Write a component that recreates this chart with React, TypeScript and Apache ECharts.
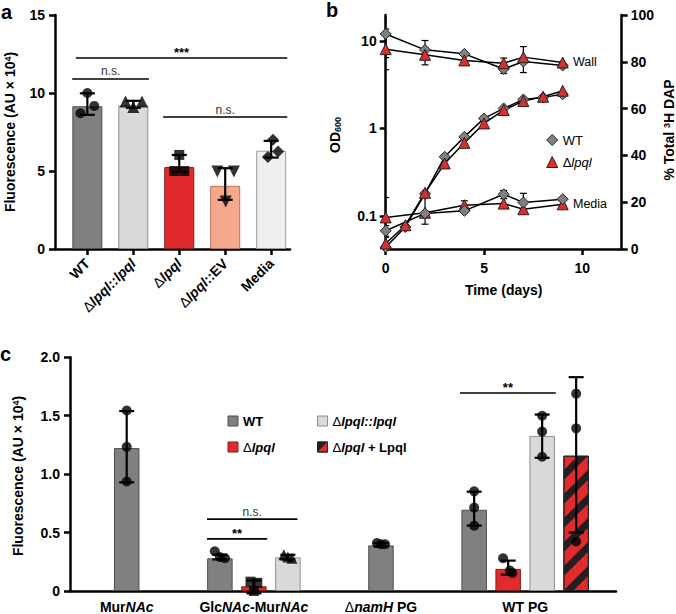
import React, { useEffect, useRef } from 'react';
import * as echarts from 'echarts';

// ---------------- Panel a data ----------------
const aCategories = ['WT', 'Δlpql::lpql', 'Δlpql', 'Δlpql::EV', 'Media'];
const aLabelsRich = ['WT', '{d|Δ}{i|lpql::lpql}', '{d|Δ}{i|lpql}', '{d|Δ}{i|lpql}::EV', 'Media'];
const aMeans = [9.15, 9.2, 5.25, 4.05, 6.3];
const aErrLow = [8.6, 9.05, 4.95, 3.15, 5.86];
const aErrHigh = [9.98, 9.5, 6.03, 5.18, 6.93];
const aReplicates = [
  [10.0, 8.7, 9.17],
  [9.45, 9.45, 9.1],
  [6.03, 5.0, 5.0],
  [4.97, 4.97, 3.05],
  [7.0, 5.9, 6.25],
];
const aSignificance = [
  { from: -0.25, to: 4.35, y: 12.24, text: '***' },
  { from: -0.33, to: 1.34, y: 10.9, text: 'n.s.' },
  { from: 1.65, to: 4.35, y: 8.46, text: 'n.s.' },
];

// ---------------- Panel b data ----------------
const bGrowthDays = [0, 1, 2, 3, 4, 5, 6, 7, 8, 9];
const bGrowthWT = [0.044, 0.075, 0.18, 0.474, 0.8, 1.3, 1.69, 2.14, 2.26, 2.45];
const bGrowthKO = [0.0485, 0.0785, 0.184, 0.398, 0.684, 1.14, 1.62, 2.05, 2.3, 2.69];
const bDapDays = [0, 2, 4, 6, 7, 9];
const bWallWT = [91.9, 85.1, 83.4, 76.9, 80.1, 78.4];
const bWallKO = [85.4, 83.0, 80.6, 79.4, 82.0, 79.7];
const bMediaWT = [7.8, 15.2, 16.3, 23.4, 19.9, 21.3];
const bMediaKO = [13.5, 15.5, 18.7, 19.4, 17.0, 19.1];
const bErrDays = [0, 0, 2, 6, 7, 0, 0, 2, 4, 6, 7];
const bErrLow = [81.8, 76.6, 78.7, 75.0, 75.4, 5.5, 5.0, 10.6, 16.5, 21.5, 15.5];
const bErrHigh = [102, 94, 89.1, 81.6, 86.5, 10, 22, 22, 20.6, 25, 23.8];
const bLeftTicks = [0.1, 1, 10];

// ---------------- Panel c data ----------------
const cGroupsRich = ['Mur{i|NAc}', 'Glc{i|NAc}-Mur{i|NAc}', '{d|Δ}{i|namH} PG', 'WT PG'];
const cStrains = ['WT', 'Δlpql', 'Δlpql::lpql', 'Δlpql + Lpql'];
const cStrainLegend = ['WT', '{d|Δ}{i|lpql}', '{d|Δ}{i|lpql::lpql}', '{d|Δ}{i|lpql} + Lpql'];
const cMeansWT = [1.223, 0.28, 0.39, 0.695];
const cMeansKO = [null, 0.04, null, 0.189];
const cMeansComp = [null, 0.288, null, 1.327];
const cMeansLpql = [null, null, null, 1.158];
const cLowWT = [0.93, 0.27, 0.38, 0.56];
const cHighWT = [1.54, 0.31, 0.41, 0.85];
const cLowKO = [null, -0.02, null, 0.14];
const cHighKO = [null, 0.09, null, 0.26];
const cLowComp = [null, 0.27, null, 1.14];
const cHighComp = [null, 0.31, null, 1.51];
const cLowLpql = [null, null, null, 0.5];
const cHighLpql = [null, null, null, 1.83];
const cRepsWT = [[1.545, 1.234, 0.937], [0.34, 0.29, 0.28], [0.41, 0.4, 0.4], [0.853, 0.714, 0.559]];
const cRepsKO = [null, [0.08, 0.07, 0.0], null, [0.28, 0.175, 0.155]];
const cRepsComp = [null, [0.31, 0.29, 0.28], null, [1.5, 1.364, 1.149]];
const cRepsLpql = [null, null, null, [1.689, 1.392, 0.424]];
const cSignificance = [
  { from: 11.47, to: 14.29, y: 1.695, text: '**' },
  { from: 4.03, to: 6.69, y: 0.615, text: 'n.s.' },
  { from: 4.03, to: 5.8, y: 0.446, text: '**' },
];

// ---------------- layout / style ----------------
const FONT = "'Liberation Sans', Arial, Helvetica, sans-serif";
const A_JITTER = [[0, -0.15, 0.15], [-0.17, 0.19, 0], [0, -0.11, 0.11], [-0.17, 0.19, 0.01], [0.04, -0.07, 0.15]];
const A_SYMBOLS = [
  { symbol: 'circle', size: 10, rotate: 0 },
  { symbol: 'triangle', size: 12, rotate: 0 },
  { symbol: 'rect', size: 10, rotate: 0 },
  { symbol: 'triangle', size: 12, rotate: 180 },
  { symbol: 'diamond', size: 12, rotate: 0 },
];
const A_COLORS = ['#808080', '#d9d9d9', '#e12a2b', '#f5a88e', '#eeeff0'];
const A_BORDERS = ['#4f4f4f', '#8e8e8e', '#8a1b1b', '#b9725c', '#9c9c9c'];
const C_GROUP_CENTERS = [1.668, 5.409, 9.147, 13.388];
const C_COLORS = ['#808080', '#e12a2b', '#d9d9d9', '#e12a2b'];
const C_BORDERS = ['#4f4f4f', '#8a1b1b', '#8e8e8e', '#222222'];
const C_JITTER: (number[] | null)[][] = [
  [[0, 0, 0], [-0.15, 0, 0.15], [-0.12, 0, 0.12], [0, 0, 0]],
  [null, [-0.1, 0.1, 0], null, [-0.15, 0.05, 0.12]],
  [null, [-0.12, 0, 0.12], null, [0, 0, 0]],
  [null, null, null, [0, 0, 0]],
];
const HATCH = {
  symbol: 'rect',
  symbolSize: 1,
  color: '#231f20',
  dashArrayX: [1, 0],
  dashArrayY: [7, 10],
  rotation: -Math.PI / 4,
};

const richBold = (size: number) => ({
  i: { fontStyle: 'italic', fontWeight: 'bold', fontSize: size, fontFamily: FONT, color: '#000' },
  d: { fontWeight: 'normal', fontSize: size, fontFamily: FONT, color: '#000' },
});

const axisBase = (extra: any = {}) => ({
  axisLine: { show: true, onZero: false, lineStyle: { color: '#000', width: 2.5 } },
  axisTick: { show: true, length: 6, lineStyle: { color: '#000', width: 2.5 } },
  splitLine: { show: false },
  ...extra,
  axisLabel: {
    color: '#000',
    fontFamily: FONT,
    fontWeight: 'bold',
    fontSize: 14,
    ...(extra.axisLabel || {}),
  },
});

function errorSeries(xi: number, yi: number, data: number[][], cap: number, lw: number, clip: boolean) {
  return {
    type: 'custom',
    xAxisIndex: xi,
    yAxisIndex: yi,
    z: 5,
    clip,
    silent: true,
    encode: { x: 0, y: [1, 2] },
    data,
    renderItem: (params: any, api: any) => {
      const x = api.value(0);
      const a = api.coord([x, api.value(1)]);
      const b = api.coord([x, api.value(2)]);
      const h = cap / 2;
      const st = { stroke: '#000', lineWidth: lw };
      return {
        type: 'group',
        children: [
          { type: 'line', shape: { x1: a[0], y1: a[1], x2: b[0], y2: b[1] }, style: st },
          { type: 'line', shape: { x1: a[0] - h, y1: a[1], x2: a[0] + h, y2: a[1] }, style: st },
          { type: 'line', shape: { x1: b[0] - h, y1: b[1], x2: b[0] + h, y2: b[1] }, style: st },
        ],
      };
    },
  };
}

function sigSeries(xi: number, yi: number, lines: { from: number; to: number; y: number; text: string }[]) {
  return {
    type: 'custom',
    xAxisIndex: xi,
    yAxisIndex: yi,
    z: 6,
    silent: true,
    clip: false,
    encode: { x: [0, 1], y: 2 },
    data: lines.map((l) => [l.from, l.to, l.y]),
    renderItem: (params: any, api: any) => {
      const p1 = api.coord([api.value(0), api.value(2)]);
      const p2 = api.coord([api.value(1), api.value(2)]);
      const t = lines[params.dataIndex].text;
      const star = t.charAt(0) === '*';
      return {
        type: 'group',
        children: [
          { type: 'line', shape: { x1: p1[0], y1: p1[1], x2: p2[0], y2: p1[1] }, style: { stroke: '#000', lineWidth: 1.6 } },
          {
            type: 'text',
            x: (p1[0] + p2[0]) / 2,
            y: p1[1] - (star ? 5.5 : 7.5),
            style: {
              text: t,
              fill: star ? '#000' : '#333',
              fontSize: star ? 13 : 12,
              fontWeight: star ? 'bold' : 'normal',
              fontFamily: FONT,
              align: 'center',
              verticalAlign: 'middle',
            },
          },
        ],
      };
    },
  };
}

function buildOption() {
  // panel a
  const aBars = aMeans.map((m, i) => ({
    value: [i, m],
    itemStyle: { color: A_COLORS[i], borderColor: A_BORDERS[i], borderWidth: 1 },
  }));
  const aPoints: any[] = [];
  aReplicates.forEach((reps, i) => {
    reps.forEach((v, k) => {
      aPoints.push({
        value: [i + A_JITTER[i][k], v],
        symbol: A_SYMBOLS[i].symbol,
        symbolSize: A_SYMBOLS[i].size,
        symbolRotate: A_SYMBOLS[i].rotate,
      });
    });
  });
  const aErr = aMeans.map((_, i) => [i, aErrLow[i], aErrHigh[i]]);

  // panel c
  const cMeans = [cMeansWT, cMeansKO, cMeansComp, cMeansLpql];
  const cLow = [cLowWT, cLowKO, cLowComp, cLowLpql];
  const cHigh = [cHighWT, cHighKO, cHighComp, cHighLpql];
  const cReps = [cRepsWT, cRepsKO, cRepsComp, cRepsLpql];
  const cPos: (number | null)[][] = cMeans.map(() => [null, null, null, null]);
  C_GROUP_CENTERS.forEach((center, g) => {
    const present = cMeans.map((arr, s) => (arr[g] != null ? s : -1)).filter((s) => s >= 0);
    present.forEach((s, k) => {
      cPos[s][g] = center + (k - (present.length - 1) / 2);
    });
  });
  const cBarSeries = cStrains.map((name, s) => ({
    name,
    type: 'bar',
    xAxisIndex: 2,
    yAxisIndex: 3,
    barWidth: 25.5,
    barGap: '-100%',
    z: 2,
    itemStyle: {
      color: C_COLORS[s],
      borderColor: C_BORDERS[s],
      borderWidth: 1,
      ...(s === 3 ? { decal: HATCH } : {}),
    },
    data: cMeans[s]
      .map((v, g) => (v == null ? null : [cPos[s][g], v]))
      .filter((d) => d != null),
  }));
  const cErr: number[][] = [];
  const cPoints: any[] = [];
  cMeans.forEach((arr, s) => {
    arr.forEach((v, g) => {
      if (v == null) return;
      const x = cPos[s][g] as number;
      cErr.push([x, cLow[s][g] as number, cHigh[s][g] as number]);
      const reps = cReps[s][g] as number[];
      const jit = (C_JITTER[s][g] || [0, 0, 0]) as number[];
      const sym = g === 1 ? ['circle', 'rect', 'triangle', 'circle'][s] : 'circle';
      reps.forEach((r, k) => {
        cPoints.push({ value: [x + jit[k], r], symbol: sym, symbolSize: sym === 'triangle' ? 11 : 10 });
      });
    });
  });

  // panel b
  const diamondStyle = { color: '#808080', borderColor: '#222', borderWidth: 1 };
  const triStyle = { color: '#dd2e2b', borderColor: '#222', borderWidth: 1 };
  const lineSeries = (name: string, yi: number, days: number[], vals: number[], wt: boolean) => ({
    name,
    type: 'line',
    xAxisIndex: 1,
    yAxisIndex: yi,
    z: 3,
    symbol: wt ? 'diamond' : 'triangle',
    symbolSize: 11,
    showAllSymbol: true,
    itemStyle: wt ? diamondStyle : triStyle,
    lineStyle: { color: '#000', width: 1.5 },
    data: vals.map((v, i) => [days[i], v]),
  });
  const bErr = bErrDays.map((d, i) => [d, bErrLow[i], bErrHigh[i]]);

  const legendText = { fontFamily: FONT, fontSize: 13, color: '#000', fontWeight: 'bold', rich: richBold(13) };

  return {
    animation: false,
    backgroundColor: '#fff',
    grid: [
      { left: 55, top: 15, width: 235, height: 234 },
      { left: 385.7, top: 15, width: 236, height: 234 },
      { left: 70, top: 357.3, width: 546, height: 236 },
    ],
    xAxis: [
      axisBase({
        gridIndex: 0,
        type: 'value',
        min: -0.704,
        max: 4.41,
        axisTick: { show: true, length: 6, lineStyle: { color: '#000', width: 2.5 }, customValues: [0, 1, 2, 3, 4] },
        axisLabel: {
          customValues: [0, 1, 2, 3, 4],
          rotate: 45,
          margin: 12,
          formatter: (v: number) => aLabelsRich[Math.round(v)] || '',
          rich: richBold(14),
        },
      }),
      axisBase({
        gridIndex: 1,
        type: 'value',
        min: 0,
        max: 12,
        interval: 5,
        axisLabel: { showMaxLabel: false, margin: 12, fontSize: 14 },
      }),
      axisBase({
        gridIndex: 2,
        type: 'value',
        min: 0,
        max: 16.06,
        axisTick: { show: false },
        axisLabel: {
          customValues: C_GROUP_CENTERS,
          margin: 9,
          formatter: (v: number) => {
            const idx = C_GROUP_CENTERS.findIndex((c) => Math.abs(c - v) < 1e-6);
            return idx >= 0 ? cGroupsRich[idx] : '';
          },
          rich: richBold(14),
        },
      }),
    ],
    yAxis: [
      axisBase({ gridIndex: 0, type: 'value', min: 0, max: 15, interval: 5, axisLabel: { margin: 10 } }),
      axisBase({
        gridIndex: 1,
        type: 'log',
        logBase: 10,
        min: 0.042,
        max: 19.7,
        position: 'left',
        axisTick: { show: true, length: 6, lineStyle: { color: '#000', width: 2.5 }, customValues: bLeftTicks },
        axisLabel: {
          customValues: bLeftTicks,
          margin: 9,
          formatter: (v: number) => String(Number(Number(v).toPrecision(3))),
        },
      }),
      axisBase({ gridIndex: 1, type: 'value', min: 0, max: 100, interval: 20, position: 'right', axisLabel: { margin: 9 } }),
      axisBase({
        gridIndex: 2,
        type: 'value',
        min: 0,
        max: 2,
        interval: 0.5,
        axisLabel: { margin: 10, formatter: (v: number) => (v === 0 ? '0' : v.toFixed(1)) },
      }),
    ],
    legend: [
      {
        data: [{ name: 'WT growth', icon: 'diamond', itemStyle: diamondStyle }],
        left: 541.2, top: 128.5, itemWidth: 11, itemHeight: 11, selectedMode: false,
        formatter: () => 'WT',
        textStyle: { fontFamily: FONT, fontSize: 13, color: '#000', fontWeight: 'normal' },
      },
      {
        data: [{ name: 'Δlpql growth', icon: 'triangle', itemStyle: triStyle }],
        left: 541.2, top: 150.5, itemWidth: 11, itemHeight: 11, selectedMode: false,
        formatter: () => 'Δ{i|lpql}',
        textStyle: {
          fontFamily: FONT, fontSize: 13, color: '#000', fontWeight: 'normal',
          rich: { i: { fontStyle: 'italic', fontFamily: FONT, fontSize: 13, color: '#000' } },
        },
      },
      ...cStrains.map((name, s) => ({
        data: [{
          name,
          icon: 'rect',
          itemStyle: { color: C_COLORS[s], borderColor: C_BORDERS[s], borderWidth: 1, ...(s === 3 ? { decal: HATCH } : {}) },
        }],
        left: s === 0 || s === 1 ? 222.5 : 312,
        top: (s === 0 || s === 2 ? 416 : 442) - 6.5,
        itemWidth: 10,
        itemHeight: 10,
        selectedMode: false,
        formatter: () => cStrainLegend[s],
        textStyle: legendText,
      })),
    ],
    graphic: [
      { type: 'text', x: 1, y: 12, style: { text: 'a', fontSize: 20, fontWeight: 'bold', fontFamily: FONT, fill: '#000', verticalAlign: 'middle' } },
      { type: 'text', x: 326, y: 10, style: { text: 'b', fontSize: 20, fontWeight: 'bold', fontFamily: FONT, fill: '#000', verticalAlign: 'middle' } },
      { type: 'text', x: 0, y: 354, style: { text: 'c', fontSize: 20, fontWeight: 'bold', fontFamily: FONT, fill: '#000', verticalAlign: 'middle' } },
      {
        type: 'text', x: 10, y: 132, rotation: Math.PI / 2,
        style: {
          text: 'Fluorescence (AU × 10{sup|4})', fontSize: 14, fontWeight: 'bold', fontFamily: FONT, fill: '#000',
          align: 'center', verticalAlign: 'middle',
          rich: { sup: { fontSize: 9, fontWeight: 'bold', fontFamily: FONT, fill: '#000', verticalAlign: 'top' } },
        },
      },
      {
        type: 'text', x: 18, y: 476, rotation: Math.PI / 2,
        style: {
          text: 'Fluorescence (AU × 10{sup|4})', fontSize: 14, fontWeight: 'bold', fontFamily: FONT, fill: '#000',
          align: 'center', verticalAlign: 'middle',
          rich: { sup: { fontSize: 9, fontWeight: 'bold', fontFamily: FONT, fill: '#000', verticalAlign: 'top' } },
        },
      },
      {
        type: 'text', x: 335, y: 135, rotation: Math.PI / 2,
        style: {
          text: 'OD{sub|600}', fontSize: 14, fontWeight: 'bold', fontFamily: FONT, fill: '#000',
          align: 'center', verticalAlign: 'middle',
          rich: { sub: { fontSize: 9, fontWeight: 'bold', fontFamily: FONT, fill: '#000', verticalAlign: 'bottom' } },
        },
      },
      {
        type: 'text', x: 669, y: 130, rotation: Math.PI / 2,
        style: {
          text: '% Total {sup|3}H DAP', fontSize: 14, fontWeight: 'bold', fontFamily: FONT, fill: '#000',
          align: 'center', verticalAlign: 'middle',
          rich: { sup: { fontSize: 9, fontWeight: 'bold', fontFamily: FONT, fill: '#000', verticalAlign: 'top' } },
        },
      },
      {
        type: 'text', x: 503.7, y: 290,
        style: { text: 'Time (days)', fontSize: 14, fontWeight: 'bold', fontFamily: FONT, fill: '#000', align: 'center', verticalAlign: 'middle' },
      },
      { type: 'text', x: 573, y: 62, style: { text: 'Wall', fontSize: 12.5, fontFamily: FONT, fill: '#000', verticalAlign: 'middle' } },
      { type: 'text', x: 573, y: 204, style: { text: 'Media', fontSize: 12.5, fontFamily: FONT, fill: '#000', verticalAlign: 'middle' } },
    ],
    series: [
      // panel a
      { name: 'a-bars', type: 'bar', xAxisIndex: 0, yAxisIndex: 0, barWidth: 30, z: 2, data: aBars },
      errorSeries(0, 0, aErr, 15, 2.2, false),
      {
        name: 'a-points', type: 'scatter', xAxisIndex: 0, yAxisIndex: 0, z: 7,
        itemStyle: { color: '#000' }, data: aPoints,
      },
      sigSeries(0, 0, aSignificance),
      // panel b
      lineSeries('WT wall', 2, bDapDays, bWallWT, true),
      lineSeries('Δlpql wall', 2, bDapDays, bWallKO, false),
      lineSeries('WT growth', 1, bGrowthDays, bGrowthWT, true),
      lineSeries('Δlpql growth', 1, bGrowthDays, bGrowthKO, false),
      lineSeries('Δlpql media', 2, bDapDays, bMediaKO, false),
      lineSeries('WT media', 2, bDapDays, bMediaWT, true),
      { ...errorSeries(1, 2, bErr, 7, 1.2, true), z: 2 },
      // panel c
      ...cBarSeries,
      errorSeries(2, 3, cErr, 15, 2.2, false),
      {
        name: 'c-points', type: 'scatter', xAxisIndex: 2, yAxisIndex: 3, z: 7,
        itemStyle: { color: '#000' }, data: cPoints,
      },
      sigSeries(2, 3, cSignificance),
    ],
  };
}

export default function App() {
  const ref = useRef<HTMLDivElement>(null);
  useEffect(() => {
    if (!ref.current) return;
    const chart = echarts.init(ref.current, null, { renderer: 'svg' });
    chart.setOption(buildOption() as any);
    return () => chart.dispose();
  }, []);
  return (
    <div
      ref={ref}
      style={{ position: 'fixed', left: 0, top: 0, width: 676, height: 614, background: '#fff' }}
    />
  );
}
